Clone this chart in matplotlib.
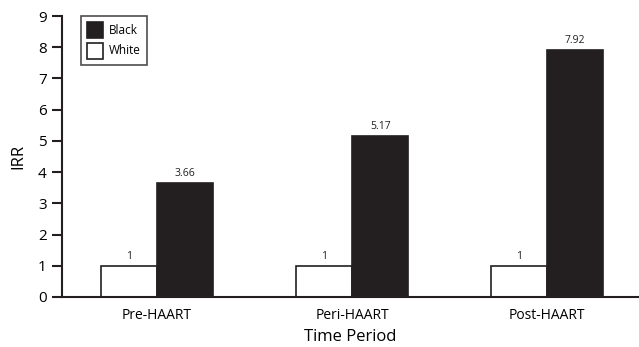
import matplotlib
matplotlib.use("Agg")
import matplotlib.pyplot as plt
import numpy as np

periods = ["Pre-HAART", "Peri-HAART", "Post-HAART"]
white_vals = [1, 1, 1]
black_vals = [3.66, 5.17, 7.92]
white_labels = ["1", "1", "1"]
black_labels = ["3.66", "5.17", "7.92"]

plt.rcParams['font.family'] = ['Open Sans', 'DejaVu Sans']

fig = plt.figure(figsize=(6.39, 3.47), dpi=100)
ax = fig.add_axes([62 / 639, 1 - 297 / 347, (639 - 62) / 639, (297 - 16) / 347])

x = np.arange(len(periods))
w = 0.287
bw = ax.bar(x - w / 2, white_vals, w, color="white", edgecolor="#231f20", linewidth=1.2, label="White", zorder=2)
bb = ax.bar(x + w / 2, black_vals, w, color="#231f20", edgecolor="#231f20", linewidth=1.2, label="Black", zorder=2)

for xi, v, t in zip(x, white_vals, white_labels):
    ax.text(xi - w / 2, v + 0.12, t, ha="center", va="bottom", fontsize=7.5, color="#231f20")
for xi, v, t in zip(x, black_vals, black_labels):
    ax.text(xi + w / 2, v + 0.12, t, ha="center", va="bottom", fontsize=7.5, color="#231f20")

ax.set_xlim(-0.487, 2.47)
ax.set_ylim(0, 9)
ax.set_yticks(range(10))
ax.set_xticks(x)
ax.set_xticklabels(periods, fontsize=10)
ax.tick_params(axis="x", length=0, pad=8)
ax.tick_params(axis="y", direction="out", length=7, width=1.5, labelsize=11, pad=4, color="#231f20")
for s in ["top", "right"]:
    ax.spines[s].set_visible(False)
for s in ["left", "bottom"]:
    ax.spines[s].set_linewidth(1.5)
    ax.spines[s].set_color("#231f20")

ax.set_ylabel("IRR", fontsize=12, labelpad=8)
ax.set_xlabel("Time Period", fontsize=12, labelpad=4)

leg = ax.legend(handles=[bb, bw], labels=["Black", "White"], loc="upper left",
                bbox_to_anchor=(19 / 577, 1.0), borderaxespad=0, fontsize=8.5, frameon=True,
                fancybox=False, edgecolor="#231f20", handlelength=1.3, handleheight=1.7,
                handletextpad=0.5, borderpad=0.55, labelspacing=0.35)
leg.get_frame().set_linewidth(1.2)

fig.savefig("out.png", dpi=100)
